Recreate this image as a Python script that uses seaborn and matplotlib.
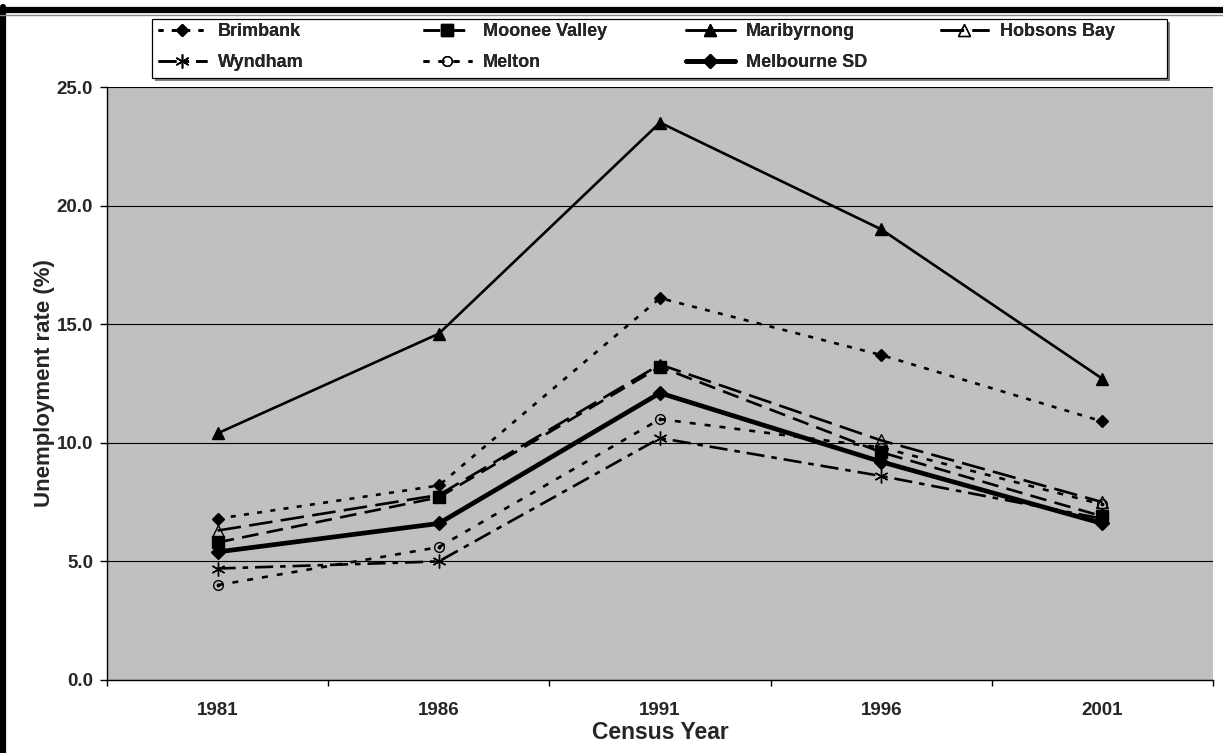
import matplotlib
matplotlib.use("Agg")
import matplotlib.pyplot as plt
from matplotlib.lines import Line2D
from matplotlib.patches import Rectangle
from matplotlib.ticker import FixedLocator, FormatStrFormatter, NullFormatter
import seaborn as sns

# ---- data ----
years = ["1981", "1986", "1991", "1996", "2001"]
brimbank = [6.8, 8.2, 16.1, 13.7, 10.9]
moonee_valley = [5.8, 7.7, 13.2, 9.6, 6.9]
maribyrnong = [10.4, 14.6, 23.5, 19.0, 12.7]
hobsons_bay = [6.3, 7.8, 13.3, 10.1, 7.5]
wyndham = [4.7, 5.0, 10.2, 8.6, 6.8]
melton = [4.0, 5.6, 11.0, 9.8, 7.4]
melbourne_sd = [5.4, 6.6, 12.1, 9.2, 6.6]
y_ticks = [0, 5, 10, 15, 20, 25]

sns.set_style("ticks")
plt.rcParams["font.family"] = ["Liberation Sans", "DejaVu Sans"]
plt.rcParams["font.weight"] = "bold"
plt.rcParams["lines.scale_dashes"] = False

W, H = 1223, 753
fig = plt.figure(figsize=(W / 100, H / 100), dpi=100)
fig.patch.set_facecolor("white")
L, R, T, B = 107, 1213, 87, 680
ax = fig.add_axes([L / W, 1 - B / H, (R - L) / W, (B - T) / H])
ax.set_facecolor("#C0C0C0")

xpos = list(range(len(years)))

series = [
    ("Brimbank", brimbank, dict(lw=1.9, linestyle=(0, (3.6, 6.0)), marker="D", ms=6.3, mfc="black")),
    ("Moonee Valley", moonee_valley, dict(lw=1.9, linestyle=(0, (12, 6)), marker="s", ms=8, mfc="black")),
    ("Maribyrnong", maribyrnong, dict(lw=1.9, linestyle="-", marker="^", ms=9, mfc="black")),
    ("Hobsons Bay", hobsons_bay, dict(lw=1.9, linestyle=(0, (17, 6)), marker="^", ms=8, mfc="none")),
    ("Wyndham", wyndham, dict(lw=1.9, linestyle=(0, (13, 5, 4, 5)), marker=(6, 2, 0), ms=10, mfc="black")),
    ("Melton", melton, dict(lw=1.9, linestyle=(0, (4.3, 6.5)), marker="o", ms=7, mfc="none")),
    ("Melbourne SD", melbourne_sd, dict(lw=3.4, linestyle="-", marker="D", ms=7.5, mfc="black")),
]

for name, vals, st in series:
    sns.lineplot(x=xpos, y=vals, ax=ax, color="black", label=name,
                 mec="black", mew=1.0, dash_capstyle="butt", **st)

# Melton markers have a small dot inside
ax.plot(xpos, melton, linestyle="none", marker="o", ms=1.8, color="black", label="_nolegend_")

# axes
ax.set_xlim(-0.5, len(years) - 0.5)
ax.set_ylim(0, 25)
ax.xaxis.set_major_locator(FixedLocator([i - 0.5 for i in range(len(years) + 1)]))
ax.xaxis.set_major_formatter(NullFormatter())
ax.xaxis.set_minor_locator(FixedLocator(xpos))
ax.set_xticklabels(years, minor=True)
ax.tick_params(axis="x", which="major", length=4, width=1, color="black", direction="out")
ax.tick_params(axis="x", which="minor", length=0, pad=16, labelsize=13.5)
ax.set_yticks(y_ticks)
ax.yaxis.set_major_formatter(FormatStrFormatter("%.1f"))
ax.tick_params(axis="y", length=5, width=1, color="black", direction="out", labelsize=13.5, pad=5)
for lab in ax.get_xticklabels(minor=True) + ax.get_yticklabels():
    lab.set_fontweight("bold")

ax.grid(axis="y", color="black", lw=0.8)
ax.grid(axis="x", visible=False)
ax.set_axisbelow(True)
for s in ["top", "right"]:
    ax.spines[s].set_visible(False)
for s in ["left", "bottom"]:
    ax.spines[s].set_color("black")
    ax.spines[s].set_linewidth(1)

ax.set_xlabel("Census Year", fontsize=16.5, fontweight="bold", labelpad=1)
ax.set_ylabel("Unemployment rate (%)", fontsize=16, fontweight="bold", labelpad=1)

# legend: 4 equal-width columns inside one framed box
handles, labels = ax.get_legend_handles_labels()
ax.get_legend().remove()
lookup = dict(zip(labels, handles))
columns = [["Brimbank", "Wyndham"], ["Moonee Valley", "Melton"],
           ["Maribyrnong", "Melbourne SD"], ["Hobsons Bay"]]
col_x = [158, 423, 686, 940]
for cx, names in zip(col_x, columns):
    lg = fig.legend([lookup[n] for n in names], names, loc="upper left",
                    bbox_to_anchor=(cx / W, 1 - 23 / H), bbox_transform=fig.transFigure,
                    frameon=False, prop={"weight": "bold", "size": 13},
                    handlelength=2.7, handletextpad=0.6, labelspacing=0.78,
                    borderpad=0, borderaxespad=0, numpoints=1)
    fig.add_artist(lg)

# legend frame with slight shadow
fig.add_artist(Rectangle((155 / W, 1 - 81 / H), (1167 - 152) / W, 59 / H,
                         transform=fig.transFigure, facecolor="#808080", edgecolor="none", zorder=0.5))
fig.add_artist(Rectangle((152 / W, 1 - 78 / H), (1167 - 152) / W, 59 / H,
                         transform=fig.transFigure, facecolor="white", edgecolor="black", lw=0.9, zorder=0.6))

# outer border (left and top)
fig.add_artist(Line2D([3 / W, 3 / W], [0, 1 - 7 / H], transform=fig.transFigure, color="black", lw=4.5))
fig.add_artist(Line2D([0, 1], [1 - 10 / H, 1 - 10 / H], transform=fig.transFigure, color="black", lw=4.5))
fig.add_artist(Line2D([0, 1], [1 - 15 / H, 1 - 15 / H], transform=fig.transFigure, color="#888888", lw=1))

fig.savefig("out.png", dpi=100)
